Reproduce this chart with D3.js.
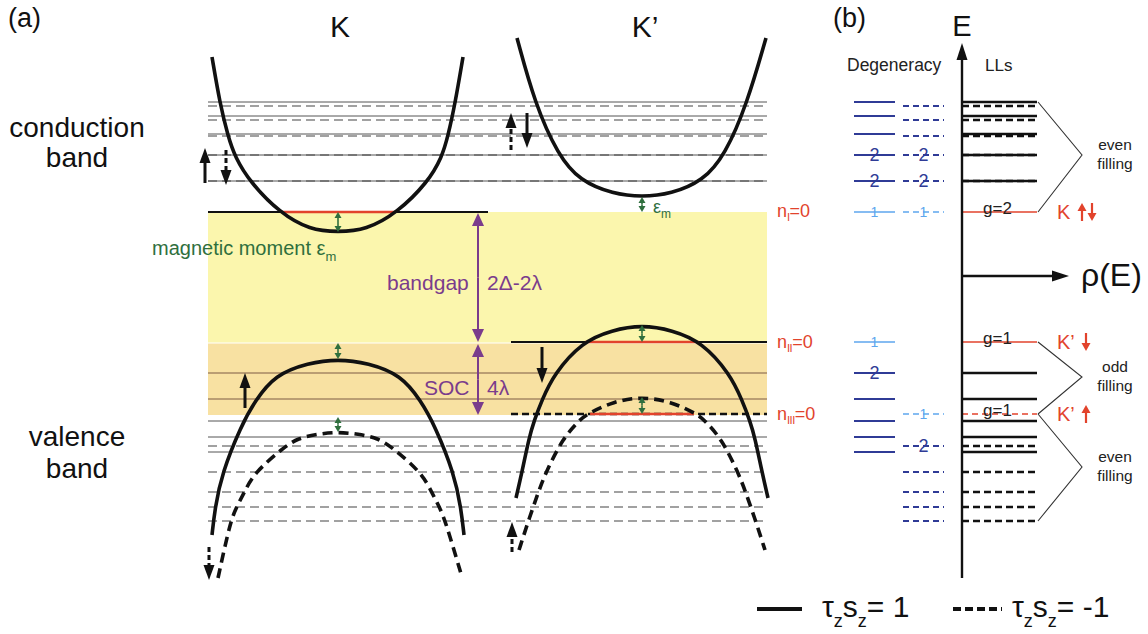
<!DOCTYPE html>
<html>
<head>
<meta charset="utf-8">
<script src="https://cdn.jsdelivr.net/npm/d3@7"></script>
<style>
  body { margin: 0; background: #fff; }
  svg { display: block; font-family: "Liberation Sans", Arial, sans-serif; }
</style>
</head>
<body>
<svg id="fig" width="1148" height="634"></svg>
<script>
// ---------- data (energies in arbitrary units, 0 = mid gap) ----------
const condSolidE = [174, 160, 142, 121, 95];
const condDashedE = [170, 156, 140, 121, 95];
const condDeg = ["", "", "", "2", "2"];
const valSolidE = [-97, -123, -145, -161, -176];
const valSolidDeg = ["2", "", "", "", ""];
const valDashedE = [-170, -196, -216, -231, -245];
const valDashedDeg = ["2", "", "", "", ""];
// zero levels n_I, n_II, n_III
const zeroE = [64, -66, -138];
const zeroSub = ["I", "II", "III"];
const zeroG = ["g=2", "g=1", "g=1"];
const zeroSpin = ["K", "K\u2019", "K\u2019"];
const zeroSpinArrows = [["up", "down"], ["down"], ["up"]];
const bandgapE = [64, -67];
const socE = [-67, -139];
// bands, [k, E]
const condK = [[-126,219],[-118,172],[-110,140],[-103,119],[-88,94],[-58,63],[-28,46],[0,44],[28,46],[59,63],[90,94],[104,119],[110,140],[117,172],[125,219]];
const condKp = [[-125,238],[-107,172],[-84,121],[-62,95],[-29,82],[0,79],[29,82],[61,95],[83,121],[105,172],[124,238]];
const valK = [[-126,-259],[-123,-232],[-116,-197],[-97,-150],[-83,-125],[-63,-99],[-30,-87],[0,-83],[30,-87],[63,-99],[83,-125],[97,-150],[116,-197],[123,-232],[126,-259]];
const valKdash = [[-120,-302],[-108,-247],[-102,-232],[-94,-217],[-84,-197],[-55,-172],[-40,-162],[-20,-158],[0,-156],[20,-158],[40,-162],[55,-172],[84,-197],[94,-217],[102,-232],[108,-247],[124,-301]];
const valKp = [[-126,-222],[-120,-196],[-113,-162],[-108,-145],[-100,-124],[-88,-98],[-60,-66],[-30,-54],[0,-49],[30,-54],[60,-66],[88,-98],[100,-124],[108,-145],[113,-162],[120,-196],[126,-222]];
const valKpDash = [[-123,-274],[-114,-246],[-104,-217],[-96,-196],[-79,-162],[-63,-145],[-57,-139],[-28,-125],[0,-121],[28,-125],[57,-139],[63,-145],[79,-162],[96,-196],[104,-217],[114,-246],[123,-274]];
// spin arrows in (a)
const spinArrows = [
  { valley: "K", k: -133, from: 93, to: 128, dash: false },
  { valley: "K", k: -112, from: 126, to: 91, dash: true },
  { valley: "Kp", k: -131, from: 126, to: 163, dash: true },
  { valley: "Kp", k: -115, from: 163, to: 128, dash: false },
  { valley: "K", k: -93, from: -132, to: -97, dash: false },
  { valley: "Kp", k: -100, from: -71, to: -107, dash: false },
  { valley: "K", k: -129, from: -271, to: -304, dash: true },
  { valley: "Kp", k: -130, from: -276, to: -246, dash: true }
];
// filling brackets in (b)
const bracketTopE = [174, -66, -138];
const bracketApexE = [121, -101, -191];
const bracketBottomE = [64, -138, -245];
const bracketWord = ["even", "odd", "even"];

// ---------- scales ----------
const svg = d3.select("#fig");
const yE = d3.scaleLinear().domain([240, -304]).range([36, 580]);
const xK = d3.scaleLinear().domain([-130, 130]).range([208, 468]);
const xKp = d3.scaleLinear().domain([-130, 130]).range([512, 772]);
const xs = { K: xK, Kp: xKp };

const red = "#e2432c", green = "#2f6f3e", purple = "#7a3c8c";
const darkBlue = "#2f3b96", lightBlue = "#5ea6ee";

function vArrow(g, x, y1, y2, o) {
  const dir = Math.sign(y2 - y1);
  g.append("line")
    .attr("x1", x).attr("x2", x).attr("y1", y1).attr("y2", y2 - dir * o.hl * 0.8)
    .attr("stroke", o.c).attr("stroke-width", o.w)
    .attr("stroke-dasharray", o.dash || null);
  g.append("path")
    .attr("d", `M${x},${y2}L${x - o.hw},${y2 - dir * o.hl}L${x + o.hw},${y2 - dir * o.hl}Z`)
    .attr("fill", o.c);
}
function dArrow(g, x, y1, y2, o) {
  const ym = (y1 + y2) / 2;
  vArrow(g, x, ym, y1, o);
  vArrow(g, x, ym, y2, o);
}
// k where right half of a band crosses energy e
function crossing(pts, e) {
  const half = pts.filter(p => p[0] >= 0);
  for (let i = 0; i < half.length - 1; i++) {
    const [k1, e1] = half[i], [k2, e2] = half[i + 1];
    if ((e - e1) * (e - e2) <= 0) return k1 + (k2 - k1) * (e - e1) / (e2 - e1);
  }
  return 0;
}

////////////////// panel (a) ////////////////////
const ga = svg.append("g");
const xa0 = xK(-130), xa1 = xKp(125);
ga.append("rect").attr("x", xa0).attr("width", xa1 - xa0)
  .attr("y", yE(bandgapE[0])).attr("height", yE(bandgapE[1]) - yE(bandgapE[0]))
  .attr("fill", "#fbf6ad");
ga.append("rect").attr("x", xa0).attr("width", xa1 - xa0)
  .attr("y", yE(socE[0])).attr("height", yE(socE[1]) - yE(socE[0]))
  .attr("fill", "#f8e1a2");
ga.append("line").attr("x1", xa0).attr("x2", xa1)
  .attr("y1", yE(bandgapE[1])).attr("y2", yE(bandgapE[1]))
  .attr("stroke", "#fff").attr("stroke-width", 1);

// Landau levels
ga.selectAll(".lls").data(condSolidE.concat(valSolidE)).enter().append("line")
  .attr("x1", xa0).attr("x2", xa1).attr("y1", d => yE(d)).attr("y2", d => yE(d))
  .attr("stroke", d => (d < socE[0] && d > socE[1]) ? "#7d5a45" : "#555")
  .attr("stroke-width", 1);
ga.selectAll(".lld").data(condDashedE.concat(valDashedE)).enter().append("line")
  .attr("x1", xa0).attr("x2", xa1).attr("y1", d => yE(d)).attr("y2", d => yE(d))
  .attr("stroke", "#444").attr("stroke-width", 1.2).attr("stroke-dasharray", "9,5");

// zero levels
const zeroExt = [[xK(-130), xK(150)], [xKp(-131), xa1], [xKp(-131), xa1]];
zeroE.forEach((e, i) => {
  ga.append("line").attr("x1", zeroExt[i][0]).attr("x2", zeroExt[i][1])
    .attr("y1", yE(e)).attr("y2", yE(e))
    .attr("stroke", "#111").attr("stroke-width", i === 2 ? 2.5 : 2)
    .attr("stroke-dasharray", i === 2 ? "7,4" : null);
});
// red segments where the zero level is inside the band
const zeroBand = [[condK, xK], [valKp, xKp], [valKpDash, xKp]];
zeroE.forEach((e, i) => {
  const [pts, sx] = zeroBand[i];
  const kc = crossing(pts, e) - 3;
  ga.append("line").attr("x1", sx(-kc)).attr("x2", sx(kc))
    .attr("y1", yE(e)).attr("y2", yE(e))
    .attr("stroke", red).attr("stroke-width", 2.5);
});

// bands
const bands = [
  { pts: condK, sx: xK, dash: false }, { pts: condKp, sx: xKp, dash: false },
  { pts: valK, sx: xK, dash: false }, { pts: valKdash, sx: xK, dash: true },
  { pts: valKp, sx: xKp, dash: false }, { pts: valKpDash, sx: xKp, dash: true }
];
bands.forEach(b => {
  const line = d3.line().x(d => b.sx(d[0])).y(d => yE(d[1])).curve(d3.curveBasis);
  ga.append("path").attr("d", line(b.pts)).attr("fill", "none")
    .attr("stroke", "#111").attr("stroke-width", 3.6)
    .attr("stroke-dasharray", b.dash ? "10,6" : null);
});

// magnetic moment arrows
const vtx = pts => pts.find(p => p[0] === 0)[1];
[[xK, condK, zeroE[0]], [xKp, condKp, zeroE[0]], [xK, valK, bandgapE[1]],
 [xK, valKdash, zeroE[2] - 3], [xKp, valKp, zeroE[1]], [xKp, valKpDash, zeroE[2]]]
  .forEach(([sx, pts, e]) => dArrow(ga, sx(0), yE(e), yE(vtx(pts)), { c: green, w: 1.6, hl: 6, hw: 3.5 }));

// bandgap and SOC arrows
dArrow(ga, xK(140), yE(bandgapE[0]) + 1, yE(bandgapE[1]) - 1, { c: purple, w: 2, hl: 13, hw: 6 });
dArrow(ga, xK(140), yE(socE[0]) + 1, yE(socE[1]), { c: purple, w: 2, hl: 13, hw: 6 });

// spin arrows
spinArrows.forEach(a => vArrow(ga, xs[a.valley](a.k), yE(a.from), yE(a.to),
  { c: "#111", w: 3, hl: 15, hw: 5.5, dash: a.dash ? "5,3" : null }));

// labels
ga.append("text").attr("x", 8).attr("y", 27).attr("font-size", 27).attr("fill", "#111").text("(a)");
ga.append("text").attr("x", xK(0) + 2).attr("y", 37).attr("text-anchor", "middle").attr("font-size", 30).attr("fill", "#111").text("K");
ga.append("text").attr("x", xKp(0) + 3).attr("y", 37).attr("text-anchor", "middle").attr("font-size", 30).attr("fill", "#111").text("K\u2019");
[["conduction", 137], ["band", 167], ["valence", 446], ["band", 478]].forEach(([t, y]) =>
  ga.append("text").attr("x", 77).attr("y", y).attr("text-anchor", "middle")
    .attr("font-size", 28).attr("fill", "#111").text(t));

const mm = ga.append("text").attr("x", 152).attr("y", 255).attr("font-size", 20).attr("fill", green);
mm.append("tspan").text("magnetic moment \u03b5");
mm.append("tspan").attr("font-size", 13).attr("dy", 6).text("m");
const em = ga.append("text").attr("x", xKp(0) + 11).attr("y", 213).attr("font-size", 18).attr("fill", green);
em.append("tspan").text("\u03b5");
em.append("tspan").attr("font-size", 12).attr("dy", 5).text("m");

ga.append("text").attr("x", 387).attr("y", 290).attr("font-size", 21).attr("fill", purple).text("bandgap");
ga.append("text").attr("x", 487).attr("y", 290).attr("font-size", 21).attr("fill", purple).text("2\u0394-2\u03bb");
ga.append("text").attr("x", 424).attr("y", 395).attr("font-size", 21).attr("fill", purple).text("SOC");
ga.append("text").attr("x", 487).attr("y", 395).attr("font-size", 21).attr("fill", purple).text("4\u03bb");

zeroE.forEach((e, i) => {
  const t = ga.append("text").attr("x", 777).attr("y", yE(e) + 6 + (i === 0 ? -1 : 0))
    .attr("font-size", 18).attr("fill", red);
  t.append("tspan").text("n");
  t.append("tspan").attr("font-size", 11).attr("dy", 4).attr("letter-spacing", -0.5).text(zeroSub[i]);
  t.append("tspan").attr("dy", -4).text("=0");
});

////////////////// panel (b) ////////////////////
const gb = svg.append("g");
const axX = 962;
const degSolidX = [854, 895], degDashX = [903, 944], llX = [axX, 1037];

function level(g, xr, e, color, w, dash) {
  g.append("line").attr("x1", xr[0]).attr("x2", xr[1]).attr("y1", yE(e)).attr("y2", yE(e))
    .attr("stroke", color).attr("stroke-width", w).attr("stroke-dasharray", dash || null);
}
function degLabel(g, xr, e, t, color, size) {
  if (!t) return;
  g.append("text").attr("x", (xr[0] + xr[1]) / 2).attr("y", yE(e) + size * 0.36)
    .attr("text-anchor", "middle").attr("font-size", size).attr("fill", color).text(t);
}

// degeneracy column
condSolidE.forEach((e, i) => { level(gb, degSolidX, e, darkBlue, 1.8); degLabel(gb, degSolidX, e, condDeg[i], darkBlue, 18); });
condDashedE.forEach((e, i) => { level(gb, degDashX, e, darkBlue, 1.8, "6,4"); degLabel(gb, degDashX, e, condDeg[i], darkBlue, 18); });
valSolidE.forEach((e, i) => { level(gb, degSolidX, e, darkBlue, 1.8); degLabel(gb, degSolidX, e, valSolidDeg[i], darkBlue, 18); });
valDashedE.forEach((e, i) => { level(gb, degDashX, e, darkBlue, 1.8, "6,4"); degLabel(gb, degDashX, e, valDashedDeg[i], darkBlue, 18); });
// zero levels: n_I both, n_II solid, n_III dashed
[[0, degSolidX, null], [0, degDashX, "6,4"], [1, degSolidX, null], [2, degDashX, "6,4"]].forEach(([i, xr, dash]) => {
  level(gb, xr, zeroE[i], lightBlue, 1.5, dash);
  degLabel(gb, xr, zeroE[i], "1", lightBlue, 14);
});

// LLs column
condSolidE.concat(valSolidE).forEach(e => level(gb, llX, e, "#111", 2.6));
condDashedE.concat(valDashedE).forEach(e => level(gb, llX, e, "#111", 2.6, "7,4"));
zeroE.forEach((e, i) => {
  level(gb, llX, e, red, 1.6, i === 2 ? "6,4" : null);
  gb.append("text").attr("x", 983).attr("y", yE(e) + 2).attr("font-size", 17).attr("fill", "#222").text(zeroG[i]);
  gb.append("text").attr("x", 1057).attr("y", yE(e) + 7).attr("font-size", 20).attr("fill", red).text(zeroSpin[i]);
  const ax0 = i === 0 ? 1082 : 1086;
  zeroSpinArrows[i].forEach((d, j) => {
    const x = ax0 + j * 10;
    const top = yE(e) - 9, bot = yE(e) + 9;
    vArrow(gb, x, d === "up" ? bot : top, d === "up" ? top : bot, { c: red, w: 2.2, hl: 8, hw: 4.5 });
  });
});

// filling brackets
bracketTopE.forEach((t, i) => {
  const ay = yE(bracketApexE[i]);
  gb.append("path")
    .attr("d", `M${llX[1] + 1},${yE(t)}L1082,${ay}L${llX[1] + 1},${yE(bracketBottomE[i])}`)
    .attr("fill", "none").attr("stroke", "#333").attr("stroke-width", 1.1);
  gb.append("text").attr("x", 1115).attr("y", ay - 5).attr("text-anchor", "middle")
    .attr("font-size", 15.5).attr("fill", "#222").text(bracketWord[i]);
  gb.append("text").attr("x", 1115).attr("y", ay + 14).attr("text-anchor", "middle")
    .attr("font-size", 15.5).attr("fill", "#222").text("filling");
});

// axes
gb.append("line").attr("x1", axX).attr("x2", axX).attr("y1", 578).attr("y2", 56)
  .attr("stroke", "#111").attr("stroke-width", 2.4);
gb.append("path").attr("d", `M${axX},43L${axX - 5.5},60L${axX + 5.5},60Z`).attr("fill", "#111");
gb.append("line").attr("x1", axX).attr("x2", 1056).attr("y1", yE(0)).attr("y2", yE(0))
  .attr("stroke", "#111").attr("stroke-width", 2.4);
gb.append("path").attr("d", `M1069,${yE(0)}L1052,${yE(0) - 5.5}L1052,${yE(0) + 5.5}Z`).attr("fill", "#111");

gb.append("text").attr("x", 833).attr("y", 27).attr("font-size", 27).attr("fill", "#111").text("(b)");
gb.append("text").attr("x", axX).attr("y", 36).attr("text-anchor", "middle").attr("font-size", 29).attr("fill", "#111").text("E");
gb.append("text").attr("x", 1081).attr("y", 286).attr("font-size", 32).attr("fill", "#111").text("\u03c1(E)");
gb.append("text").attr("x", 847).attr("y", 71).attr("font-size", 17.5).attr("fill", "#222").text("Degeneracy");
gb.append("text").attr("x", 985).attr("y", 71).attr("font-size", 17).attr("fill", "#222").text("LLs");

////////////////// legend ////////////////////
const gl = svg.append("g");
gl.append("line").attr("x1", 757).attr("x2", 802).attr("y1", 609).attr("y2", 609)
  .attr("stroke", "#111").attr("stroke-width", 4);
gl.append("line").attr("x1", 953).attr("x2", 1002).attr("y1", 609).attr("y2", 609)
  .attr("stroke", "#111").attr("stroke-width", 4).attr("stroke-dasharray", "8,4");
[[822, "= 1"], [1012, "= -1"]].forEach(([x, rhs]) => {
  const t = gl.append("text").attr("x", x).attr("y", 617).attr("font-size", 30).attr("fill", "#111");
  t.append("tspan").text("\u03c4");
  t.append("tspan").attr("font-size", 18).attr("dy", 10).text("z");
  t.append("tspan").attr("dy", -10).text("s");
  t.append("tspan").attr("font-size", 18).attr("dy", 10).text("z");
  t.append("tspan").attr("dy", -10).text(rhs);
});
</script>
</body>
</html>
